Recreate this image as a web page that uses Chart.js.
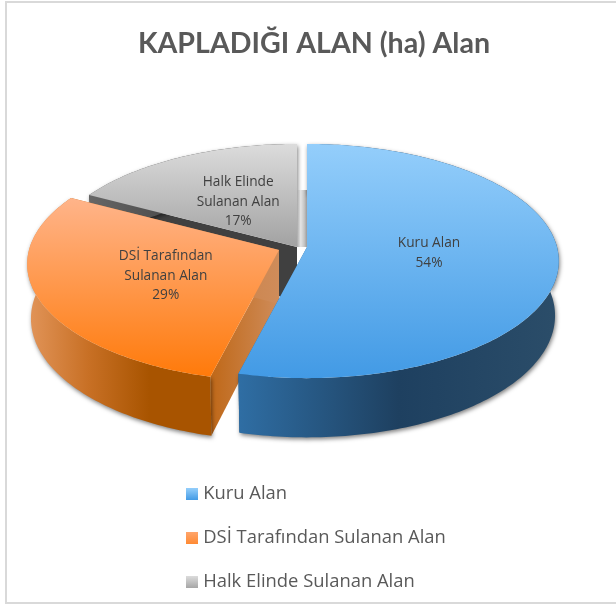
<!DOCTYPE html>
<html><head><meta charset="utf-8">
<style>html,body{margin:0;padding:0;background:#fff}canvas{display:block}</style>
<script src="https://cdn.jsdelivr.net/npm/chart.js@4"></script></head>
<body><canvas id="c" width="616" height="608"></canvas>
<script>
const TITLE = 'KAPLADIĞI ALAN (ha) Alan';
const CATEGORIES = ['Kuru Alan', 'DSİ Tarafından Sulanan Alan', 'Halk Elinde Sulanan Alan'];
const VALUES = [53.9, 29.0, 17.1];
const LABEL_LINES = [['Kuru Alan'], ['DSİ Tarafından', 'Sulanan Alan'], ['Halk Elinde', 'Sulanan Alan']];
const EXPLODE = [0, 28, 10];
const EXPLODE_Y = [0, 3, 0];
const LABEL_NUDGE = [[-3, -1], [4, 2], [2, 2]];

const TOP_STOPS = [['#94cefb', '#429ae5'], ['#ffb48a', '#ff7a0a'], ['#dcdcdc', '#a2a2a2']];
const WALL_STOPS = [['#2f6ea4', '#1e4060', '#2b4d69'], ['#e2955a', '#c87025', '#a85400', '#a85400'], ['#666', '#444', '#444']];
const CUT_STOPS = [['#2a6496', '#2a6496'], ['#bf6818', '#cf8c5a'], ['#404040', '#404040']];
const SWATCH_STOPS = [['#94cefb', '#429ae5'], ['#ffa56c', '#ff8a33'], ['#dcdcdc', '#a6a6a6']];
const STRIP_STOPS = ['#a8a8a8', '#e4e4e4', '#c4c4c4', '#8c8c8c'];

// view of the tilted pie: a perspective projection of the unit disc
const VIEW = {cx: 307, cy: 247, k: 0.12, f: 250, g: 115.4, depth: 54, baseX: 0.985, baseY: 1.04};
function project(theta, r, i, base) {
  const u = r * Math.sin(theta), v = r * Math.cos(theta), w = 1 + VIEW.k * v;
  return {
    x: VIEW.cx - EXPLODE[i] + VIEW.f * u / w * (base ? VIEW.baseX : 1),
    y: VIEW.cy + EXPLODE_Y[i] + (base ? VIEW.depth : 0) - VIEW.g * v / w * (base ? VIEW.baseY : 1)
  };
}
const DEG = Math.PI / 180;
function rim(a, b, i, base) {
  const pts = [], n = Math.max(2, Math.ceil((b - a) / DEG));
  for (let s = 0; s <= n; s++) pts.push(project(a + (b - a) * s / n, 1, i, base));
  return pts;
}
function tracePath(ctx, pts) {
  ctx.beginPath();
  pts.forEach((p, j) => j ? ctx.lineTo(p.x, p.y) : ctx.moveTo(p.x, p.y));
  ctx.closePath();
}
function sliceSpan(i) {
  const total = VALUES.reduce((s, x) => s + x, 0);
  const before = VALUES.slice(0, i).reduce((s, x) => s + x, 0);
  return [before / total * 2 * Math.PI, (before + VALUES[i]) / total * 2 * Math.PI];
}
function gradient(ctx, stops, x0, y0, x1, y1) {
  const g = ctx.createLinearGradient(x0, y0, x1, y1);
  stops.forEach((c, j) => g.addColorStop(j / (stops.length - 1), c));
  return g;
}
const canvas = document.getElementById('c');
const ctx0 = canvas.getContext('2d');
const FACE_FILLS = VALUES.map((_, i) => {
  const [a, b] = sliceSpan(i);
  const pts = rim(a, b, i, false).concat([project(0, 0, i, false)]);
  const ys = pts.map(p => p.y);
  return gradient(ctx0, TOP_STOPS[i], 0, Math.min(...ys), 0, Math.max(...ys));
});
const SWATCHES = SWATCH_STOPS.map(stops => {
  const c = document.createElement('canvas');
  c.width = 12; c.height = 12;
  const x = c.getContext('2d');
  x.fillStyle = gradient(x, stops, 0, 0, 0, 12);
  x.fillRect(0, 0, 12, 12);
  return c;
});

const pie3d = {
  id: 'pie3d',
  beforeDraw(chart) {
    const c = chart.ctx;
    c.save();
    c.strokeStyle = '#d9d9d9'; c.lineWidth = 2;
    c.strokeRect(6, 2, 640, 601);
    c.restore();
  },
  afterLayout(chart) {
    const t = chart.titleBlock;
    t.left = 0; t.right = 628; t.width = 628; t.top = 27;
    const l = chart.legend;
    const p = l.options.labels.padding;
    l.left = 190 - p; l.right = 600; l.width = l.right - l.left;
    l.top = 485 - p; l.bottom = 800; l.height = l.bottom - l.top;
  },
  beforeDatasetDraw(chart, args) {
    const c = chart.ctx, meta = args.meta;
    [2, 1, 0].forEach(i => {
      const el = meta.data[i];
      const a = el.startAngle + Math.PI / 2, b = el.endAngle + Math.PI / 2;
      const top = rim(a, b, i, false), base = rim(a, b, i, true);
      const apex = project(0, 0, i, false), apexB = project(0, 0, i, true);
      const xs = top.map(p => p.x), minX = Math.min(...xs), maxX = Math.max(...xs);

      // the two cut faces
      [[top[0], base[0]], [top[top.length - 1], base[base.length - 1]]].forEach(([tp, bp]) => {
        tracePath(c, [apex, tp, bp, apexB]);
        c.fillStyle = gradient(c, CUT_STOPS[i], Math.min(tp.x, apex.x), 0, Math.max(tp.x, apex.x) + 0.1, 0);
        c.fill();
      });

      // outer wall
      c.save();
      c.shadowColor = 'rgba(0,0,0,0.5)'; c.shadowBlur = 4; c.shadowOffsetX = 1; c.shadowOffsetY = 2;
      tracePath(c, top.concat(base.slice().reverse()));
      c.fillStyle = gradient(c, WALL_STOPS[i], minX, 0, maxX, 0);
      c.fill();
      c.restore();

      // soft shading next to the vertical cut of the grey slice
      if (i === 2) {
        c.fillStyle = gradient(c, STRIP_STOPS, apex.x, 0, apex.x + 11, 0);
        c.fillRect(apex.x, 190, 11, apex.y - 190);
      }

      // top face: the library's arc element, seen through the projected outline
      c.save();
      tracePath(c, [apex].concat(top));
      c.clip();
      const saved = [el.startAngle, el.endAngle, el.circumference, el.outerRadius];
      el.startAngle = 0; el.endAngle = 2 * Math.PI; el.circumference = 2 * Math.PI; el.outerRadius = 900;
      el.draw(c);
      [el.startAngle, el.endAngle, el.circumference, el.outerRadius] = saved;
      c.restore();
    });
    return false;
  },
  afterDatasetsDraw(chart) {
    const c = chart.ctx, meta = chart.getDatasetMeta(0);
    const total = VALUES.reduce((s, x) => s + x, 0);
    c.save();
    c.font = '13.7px "Open Sans"';
    c.fillStyle = '#404040';
    c.textAlign = 'center';
    c.textBaseline = 'middle';
    VALUES.forEach((v, i) => {
      const el = meta.data[i];
      const mid = (el.startAngle + el.endAngle) / 2 + Math.PI / 2;
      const p = project(mid, 0.5, i, false);
      const lines = LABEL_LINES[i].concat([Math.round(v / total * 100) + '%']);
      const lh = 19.5;
      lines.forEach((t, j) => c.fillText(t, p.x + LABEL_NUDGE[i][0], p.y + LABEL_NUDGE[i][1] + (j - (lines.length - 1) / 2) * lh));
    });
    c.restore();
  }
};

new Chart(canvas, {
  type: 'pie',
  data: {
    labels: CATEGORIES,
    datasets: [{data: VALUES, backgroundColor: FACE_FILLS, borderWidth: 0, offset: EXPLODE}]
  },
  options: {
    responsive: false,
    animation: false,
    events: [],
    plugins: {
      title: {display: true, text: TITLE, color: '#595959', font: {family: 'Lato', size: 28.6, weight: 'bold'}, padding: 0},
      tooltip: {enabled: false},
      legend: {
        position: 'left', align: 'start',
        labels: {
          color: '#595959', padding: 25.5, boxWidth: 4, usePointStyle: true,
          font: {family: '"Open Sans"', size: 18.4},
          generateLabels: () => CATEGORIES.map((t, i) => ({text: t, pointStyle: SWATCHES[i], index: i, lineWidth: 0, fontColor: '#595959'}))
        }
      }
    }
  },
  plugins: [pie3d]
});
</script></body></html>
